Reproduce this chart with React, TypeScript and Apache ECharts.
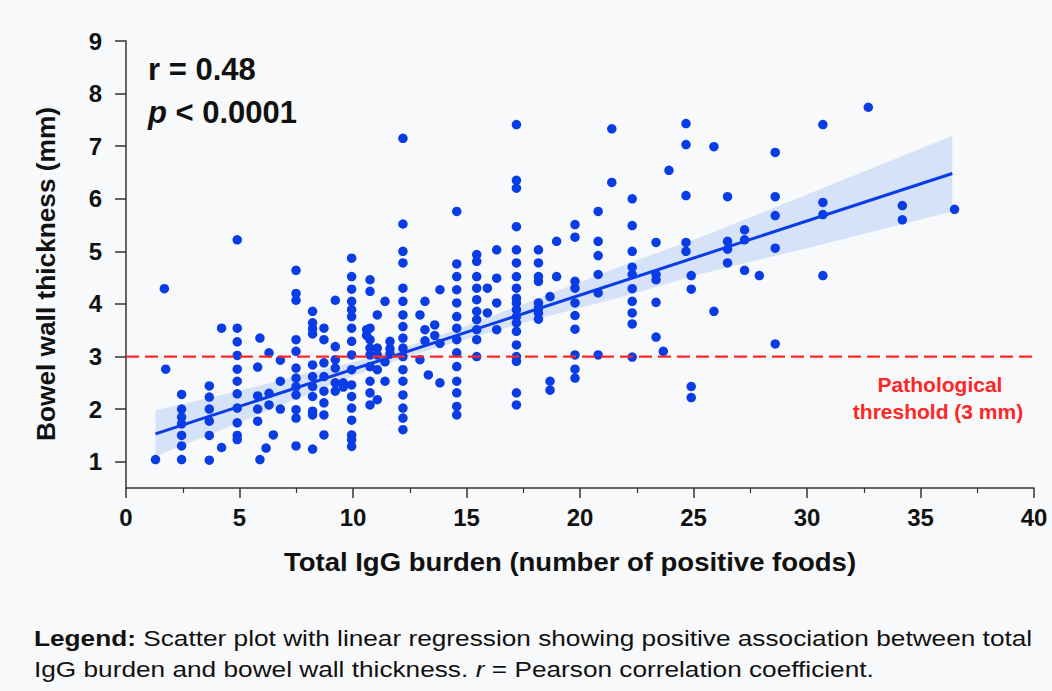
import React, { useEffect, useRef } from 'react';
import * as echarts from 'echarts';

const FONT = '"Liberation Sans", Arial, Helvetica, sans-serif';

// axis ticks
const yTickValues = [1, 2, 3, 4, 5, 6, 7, 8, 9];
const xMin = 0;
const xMax = 40;
const xInterval = 5;
const yMin = 0.5;
const yMax = 9;

// scatter data: column x positions and the y values stacked in each column
const colX = [
  1.3, 1.69, 1.75, 2.45, 3.67, 4.21, 4.9, 5.8, 5.9, 6.17, 6.3, 6.49, 6.8, 7.49, 8.22, 8.72,
  9.22, 9.57, 9.94, 10.6, 10.75, 11.07, 11.41, 11.63, 12.2, 12.95, 13.17, 13.32, 13.6, 13.83,
  14.57, 15.45, 15.92, 16.33, 17.2, 18.17, 18.68, 18.97, 19.78, 20.8, 21.4, 22.3, 23.35, 23.67,
  23.92, 24.67, 24.9, 25.9, 26.5, 27.25, 27.9, 28.6, 30.7, 32.7, 34.2, 36.5,
];
const colY = [
  [1.04],
  [4.29],
  [2.76],
  [2.28, 2.0, 1.85, 1.72, 1.5, 1.3, 1.04],
  [2.44, 2.23, 2.0, 1.77, 1.5, 1.03],
  [3.54, 1.27],
  [5.22, 3.54, 3.28, 3.02, 2.76, 2.53, 2.29, 2.02, 1.74, 1.5, 1.42],
  [2.8, 2.25, 2.0, 1.77],
  [3.35, 1.04],
  [1.26],
  [3.07, 2.3, 2.08],
  [1.51],
  [2.93, 2.53, 2.0],
  [4.64, 4.2, 4.07, 3.32, 3.1, 2.78, 2.59, 2.43, 2.27, 1.99, 1.83, 1.3],
  [3.86, 3.64, 3.53, 3.43, 2.84, 2.62, 2.43, 2.24, 1.96, 1.89, 1.24],
  [3.54, 3.32, 2.88, 2.62, 2.34, 2.12, 1.89, 1.51],
  [4.07, 3.19, 2.94, 2.78, 2.5, 2.34],
  [2.5, 2.42],
  [4.87, 4.52, 4.28, 4.05, 3.89, 3.76, 3.54, 3.29, 3.03, 2.75, 2.46, 2.24, 2.02, 1.79, 1.51, 1.42, 1.29],
  [3.51, 3.4],
  [4.46, 4.24, 3.54, 3.32, 3.16, 3.03, 2.81, 2.53, 2.31, 2.08],
  [3.79, 3.16, 3.03, 2.75, 2.18],
  [4.05, 2.9, 2.53],
  [3.29, 3.15, 3.05],
  [7.15, 5.52, 5.0, 4.78, 4.3, 4.05, 3.79, 3.57, 3.35, 3.16, 3.0, 2.75, 2.53, 2.27, 2.02, 1.83, 1.61],
  [3.79, 2.94],
  [4.05, 3.51, 3.3],
  [2.65],
  [3.6, 3.4],
  [4.27, 3.25, 2.5],
  [5.76, 4.76, 4.52, 4.27, 4.02, 3.76, 3.54, 3.32, 3.07, 2.81, 2.53, 2.31, 2.05, 1.89],
  [4.94, 4.81, 4.52, 4.3, 4.08, 3.86, 3.7, 3.51, 3.32, 3.0],
  [4.3, 3.83],
  [5.03, 4.49, 4.02, 3.51],
  [7.41, 6.35, 6.2, 5.47, 5.03, 4.78, 4.52, 4.3, 4.11, 4.02, 3.89, 3.76, 3.64, 3.48, 3.22, 3.0, 2.91, 2.31, 2.08],
  [5.03, 4.78, 4.52, 4.43, 4.02, 3.92, 3.83, 3.71],
  [4.14, 2.53, 2.36],
  [5.19, 4.52],
  [5.51, 5.27, 4.43, 4.3, 4.02, 3.78, 3.52, 3.03, 2.76, 2.59],
  [5.76, 5.19, 4.92, 4.56, 4.21, 3.03],
  [7.33, 6.31],
  [6.0, 5.49, 5.0, 4.7, 4.56, 4.29, 4.05, 3.83, 3.62, 2.99],
  [5.17, 4.56, 4.46, 4.03, 3.37],
  [3.1],
  [6.54],
  [7.43, 7.03, 6.06, 5.17, 5.0],
  [4.54, 4.28, 2.43, 2.22],
  [6.99, 3.86],
  [6.04, 5.19, 5.04, 4.78],
  [5.41, 5.22, 4.64],
  [4.54],
  [6.88, 6.04, 5.68, 5.06, 3.24],
  [7.41, 5.93, 5.7, 4.54],
  [7.74],
  [5.87, 5.6],
  [5.8],
];

// regression line end points
const regX = [1.3, 36.4];
const regY = [1.53, 6.48];

// confidence band
const bandX = [1.3, 5, 8, 10, 12, 14, 18, 22, 25.3, 30, 36.4];
const bandLower = [1.1, 1.75, 2.28, 2.63, 2.94, 3.21, 3.7, 4.15, 4.57, 5.06, 5.76];
const bandUpper = [1.98, 2.35, 2.68, 2.89, 3.14, 3.43, 4.08, 4.75, 5.27, 6.08, 7.2];

// threshold
const thresholdX = [0, 40];
const thresholdY = 3;

const BLUE = '#0a3ce6';
const RED = '#ff2626';
const BG = '#f8f9fa';

export default function App() {
  const ref = useRef<HTMLDivElement>(null);

  useEffect(() => {
    document.body.style.margin = '0';
    const chart = echarts.init(ref.current as HTMLDivElement, null, { renderer: 'svg' });

    const scatterData: number[][] = [];
    colX.forEach((x, i) => colY[i].forEach((y) => scatterData.push([x, y])));

    const axisText = { fontSize: 24, fontWeight: 'bold', color: '#111', fontFamily: FONT };

    const option: any = {
      animation: false,
      backgroundColor: BG,
      grid: { left: 126, right: 18, top: 41, bottom: 203 },
      xAxis: {
        type: 'value',
        min: xMin,
        max: xMax,
        interval: xInterval,
        axisLine: { show: true, onZero: false, lineStyle: { color: '#333', width: 1.5 } },
        axisTick: { show: true, length: 10, lineStyle: { color: '#333', width: 1.5 } },
        minorTick: { show: true, splitNumber: 2, length: 5, lineStyle: { color: '#333', width: 1.2 } },
        axisLabel: { ...axisText, margin: 17 },
        splitLine: { show: false },
        minorSplitLine: { show: false },
      },
      yAxis: {
        type: 'value',
        min: yMin,
        max: yMax,
        axisLine: { show: true, onZero: false, lineStyle: { color: '#333', width: 1.5 } },
        axisTick: { show: true, length: 11, customValues: yTickValues, lineStyle: { color: '#333', width: 1.5 } },
        axisLabel: { ...axisText, margin: 24, customValues: yTickValues },
        splitLine: { show: false },
      },
      series: [
        {
          type: 'custom',
          silent: true,
          z: 1,
          data: [[bandX[0], bandLower[0]]],
          renderItem: (params: any, api: any) => {
            const up = bandX.map((x, i) => api.coord([x, bandUpper[i]]));
            const lo = bandX.map((x, i) => api.coord([x, bandLower[i]])).reverse();
            return {
              type: 'polygon',
              shape: { points: up.concat(lo) },
              style: { fill: 'rgba(80,135,235,0.2)', stroke: 'none' },
            };
          },
        },
        {
          type: 'scatter',
          z: 2,
          symbolSize: 9.5,
          itemStyle: { color: BLUE, opacity: 1 },
          data: scatterData,
        },
        {
          type: 'line',
          z: 3,
          symbol: 'none',
          lineStyle: { color: BLUE, width: 3 },
          data: regX.map((x, i) => [x, regY[i]]),
        },
        {
          type: 'line',
          z: 4,
          symbol: 'none',
          lineStyle: { color: RED, width: 2.2, type: [13, 6] },
          data: thresholdX.map((x) => [x, thresholdY]),
        },
      ],
      graphic: [
        {
          type: 'text',
          x: 148,
          y: 69,
          style: { text: 'r = 0.48', fontSize: 31, fontWeight: 'bold', fontFamily: FONT, fill: '#111', verticalAlign: 'middle' },
        },
        {
          type: 'text',
          x: 148,
          y: 112,
          style: {
            text: '{i|p}{n| < 0.0001}',
            verticalAlign: 'middle',
            rich: {
              i: { fontSize: 31, fontWeight: 'bold', fontStyle: 'italic', fontFamily: FONT, fill: '#111' },
              n: { fontSize: 31, fontWeight: 'bold', fontFamily: FONT, fill: '#111' },
            },
          },
        },
        {
          type: 'text',
          x: 940,
          y: 384,
          style: { text: 'Pathological', fontSize: 21, fontWeight: 'bold', fontFamily: FONT, fill: RED, align: 'center', verticalAlign: 'middle' },
        },
        {
          type: 'text',
          x: 938,
          y: 411,
          style: { text: 'threshold (3 mm)', fontSize: 21, fontWeight: 'bold', fontFamily: FONT, fill: RED, align: 'center', verticalAlign: 'middle' },
        },
        {
          type: 'text',
          x: 570,
          y: 562,
          scaleX: 1.1,
          style: {
            text: 'Total IgG burden (number of positive foods)',
            fontSize: 25,
            fontWeight: 'bold',
            fontFamily: FONT,
            fill: '#111',
            align: 'center',
            verticalAlign: 'middle',
          },
        },
        {
          type: 'text',
          x: 46,
          y: 274,
          rotation: Math.PI / 2,
          scaleX: 1.05,
          style: {
            text: 'Bowel wall thickness (mm)',
            fontSize: 25,
            fontWeight: 'bold',
            fontFamily: FONT,
            fill: '#111',
            align: 'center',
            verticalAlign: 'middle',
          },
        },
        {
          type: 'text',
          x: 34,
          y: 638,
          scaleX: 1.22,
          style: {
            text: '{b|Legend:} Scatter plot with linear regression showing positive association between total',
            verticalAlign: 'middle',
            fontSize: 21.5,
            fontFamily: FONT,
            fill: '#111',
            rich: {
              b: { fontSize: 21.5, fontWeight: 'bold', fontFamily: FONT, fill: '#111' },
            },
          },
        },
        {
          type: 'text',
          x: 34,
          y: 669,
          scaleX: 1.22,
          style: {
            text: 'IgG burden and bowel wall thickness. {i|r} = Pearson correlation coefficient.',
            verticalAlign: 'middle',
            fontSize: 21.5,
            fontFamily: FONT,
            fill: '#111',
            rich: {
              i: { fontSize: 21.5, fontStyle: 'italic', fontFamily: FONT, fill: '#111' },
            },
          },
        },
      ],
    };

    chart.setOption(option);
    return () => chart.dispose();
  }, []);

  return <div ref={ref} style={{ width: 1052, height: 691, background: BG }} />;
}
